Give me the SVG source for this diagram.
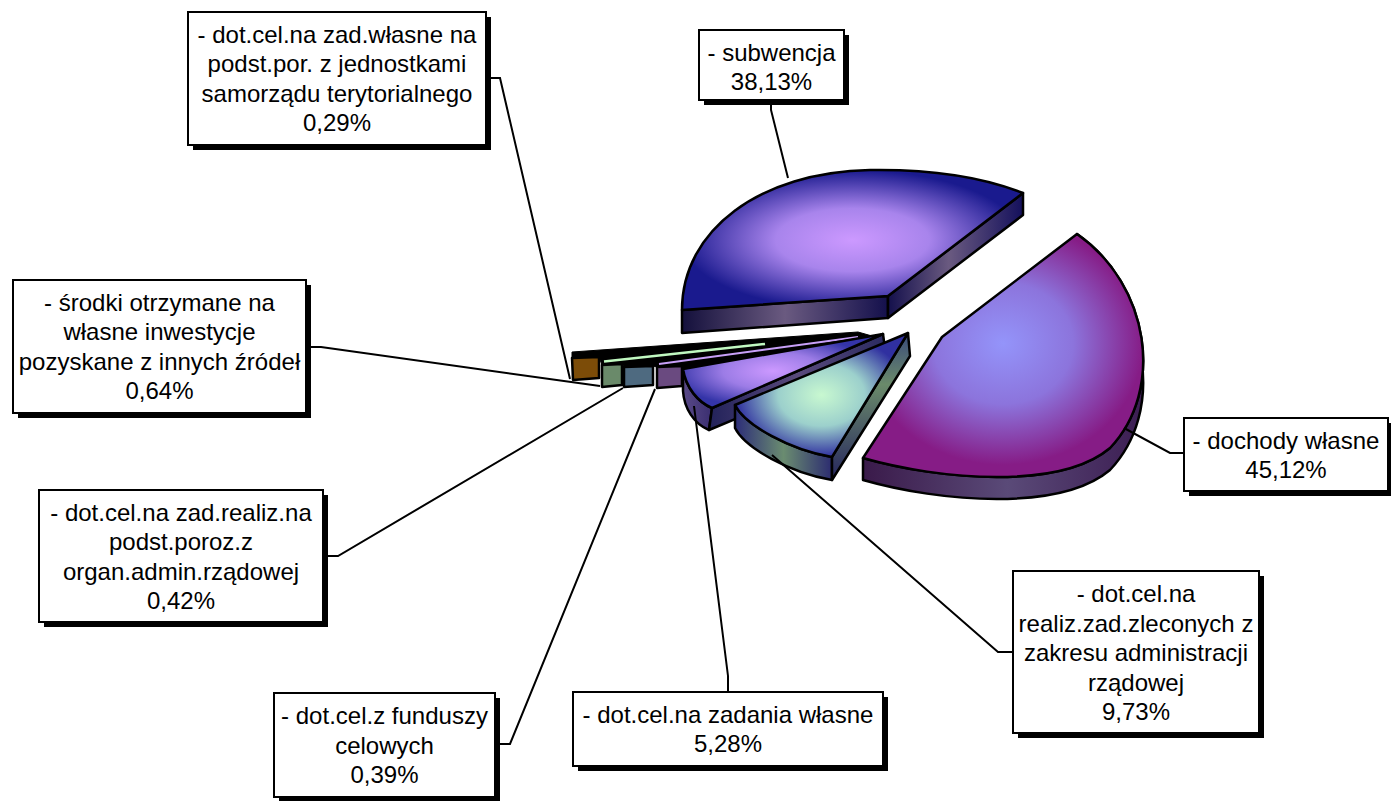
<svg xmlns="http://www.w3.org/2000/svg" width="1391" height="801" viewBox="0 0 1391 801">
<style>
.sh{fill:#000}
.bx{fill:#fff;stroke:#000;stroke-width:2}
.t{font-family:"Liberation Sans",Arial,sans-serif;font-size:24px;text-anchor:middle;fill:#000}
.s{stroke:#000;stroke-width:2.5;stroke-linejoin:round}
.ln{fill:none;stroke:#000;stroke-width:2}
</style>
<defs>
<radialGradient id="subTop" cx="0.5" cy="0.5" r="0.5"><stop offset="0" stop-color="#cc99ff"/><stop offset="0.45" stop-color="#a884ec"/><stop offset="1" stop-color="#1a1a8e"/></radialGradient>
<radialGradient id="dochTop" cx="0.5" cy="0.45" r="0.5"><stop offset="0" stop-color="#9494fa"/><stop offset="0.5" stop-color="#8c74dc"/><stop offset="1" stop-color="#861c86"/></radialGradient>
<radialGradient id="grTop" cx="0.5" cy="0.5" r="0.5"><stop offset="0" stop-color="#c8f8d0"/><stop offset="0.5" stop-color="#9cd0cc"/><stop offset="1" stop-color="#3030a0"/></radialGradient>
<radialGradient id="puTop" cx="0.45" cy="0.5" r="0.5"><stop offset="0" stop-color="#cc99ff"/><stop offset="0.5" stop-color="#9c7ce6"/><stop offset="1" stop-color="#3434a8"/></radialGradient>
<linearGradient id="subFront" gradientUnits="userSpaceOnUse" x1="682" y1="0" x2="888" y2="0"><stop offset="0" stop-color="#14103c"/><stop offset="0.5" stop-color="#6a5a80"/><stop offset="1" stop-color="#14104c"/></linearGradient>
<linearGradient id="subRight" gradientUnits="userSpaceOnUse" x1="888" y1="0" x2="1023" y2="0"><stop offset="0" stop-color="#14104c"/><stop offset="0.45" stop-color="#6a5a80"/><stop offset="1" stop-color="#14105c"/></linearGradient>
<linearGradient id="dochSide" gradientUnits="userSpaceOnUse" x1="863" y1="0" x2="1152" y2="0"><stop offset="0" stop-color="#3a1a4a"/><stop offset="0.5" stop-color="#5a4a78"/><stop offset="1" stop-color="#3a1a50"/></linearGradient>
<linearGradient id="grArc" gradientUnits="userSpaceOnUse" x1="735" y1="0" x2="832" y2="0"><stop offset="0" stop-color="#2c2c78"/><stop offset="0.5" stop-color="#6a8c70"/><stop offset="1" stop-color="#2c2c70"/></linearGradient>
<linearGradient id="grRad" gradientUnits="userSpaceOnUse" x1="0" y1="333" x2="0" y2="480"><stop offset="0" stop-color="#3a4a7a"/><stop offset="0.35" stop-color="#6a8a6a"/><stop offset="1" stop-color="#26265e"/></linearGradient>
<linearGradient id="puArc" gradientUnits="userSpaceOnUse" x1="683" y1="0" x2="712" y2="0"><stop offset="0" stop-color="#5a4a88"/><stop offset="1" stop-color="#3a2e70"/></linearGradient>
<linearGradient id="puRad" gradientUnits="userSpaceOnUse" x1="709" y1="0" x2="886" y2="0"><stop offset="0" stop-color="#22225a"/><stop offset="0.5" stop-color="#5a4a7c"/><stop offset="1" stop-color="#2a2a60"/></linearGradient>
</defs>
<rect width="1391" height="801" fill="#fff"/>

<g id="slice-subwencja">
<path class="s" fill="url(#subFront)" d="M682,310 L888,296 L888,318 L682,333 Z"/>
<path class="s" fill="url(#subRight)" d="M888,296 L1023,193 L1023,215 L888,318 Z"/>
<path class="s" fill="url(#subTop)" d="M888,296 L682,310 C682,230 760,172 870,170 C935,169 985,178 1023,193 Z"/>
</g>

<g id="slice-dochody">
<path class="s" fill="url(#dochSide)" d="M1077,234 C1150,285 1165,390 1110,448 C1060,490 940,480 863,458 L863,480 C940,502 1060,512 1110,470 C1165,412 1150,307 1077,256 Z"/>
<path class="s" fill="url(#dochTop)" d="M942,337 L1077,234 C1150,285 1165,390 1110,448 C1060,490 940,480 863,458 Z"/>
</g>

<g id="slices-small">
<path fill="#000" stroke="#000" stroke-width="1" d="M572,352 L858,332 L872,336 L683,369 L682,366 L657,367 L653,366 L624,367 L622,364 L602,365 L599,357 L572,358 Z"/>
<path fill="none" stroke="#c0f8c0" stroke-width="2.5" d="M604,361.5 L765,344"/>
<path fill="none" stroke="#c8a0f8" stroke-width="2" d="M659,364 L858,337"/>
<path class="s" fill="#7c4c08" d="M572,358 L599,357 L599,378 L573,380 Z"/>
<path class="s" fill="#6a8a6a" d="M602,365 L622,364 L622,385 L602,387 Z"/>
<path class="s" fill="#4e6a80" d="M624,367 L653,366 L653,385 L624,387 Z"/>
<path class="s" fill="#6a4a80" d="M657,367 L682,366 L682,386 L657,388 Z"/>
</g>

<g id="slice-zadania">
<path class="s" fill="url(#puArc)" d="M683,369 C686,388 698,402 712,408 L709,430 C694,424 684,408 683,391 Z"/>
<path class="s" fill="url(#puRad)" d="M712,408 L883,334 L886,356 L709,430 Z"/>
<path class="s" fill="url(#puTop)" d="M883,334 L683,369 C686,388 698,402 712,408 Z"/>
</g>

<g id="slice-zlecone">
<path class="s" fill="url(#grArc)" d="M735,405 C745,425 790,450 832,457 L832,480 C790,473 745,448 735,428 Z"/>
<path class="s" fill="url(#grRad)" d="M908,333 L910,356 L832,480 L832,457 Z"/>
<path class="s" fill="url(#grTop)" d="M908,333 L735,405 C745,425 790,450 832,457 Z"/>
</g>

<g id="connectors">
<polyline class="ln" points="486,78 500,78 570,379"/>
<polyline class="ln" points="306,347 321,347 600,386"/>
<polyline class="ln" points="323,556 338,556 623,388"/>
<polyline class="ln" points="495,744 510,744 655,389"/>
<polyline class="ln" points="728,692 728,676 694,406"/>
<polyline class="ln" points="1013,652 998,652 772,455"/>
<polyline class="ln" points="1184,453 1170,453 1124,428"/>
<polyline class="ln" points="771,100 771,110 788,178"/>
</g>

<g id="label-zad-wlasne-por">
<rect class="sh" x="193" y="17" width="298" height="133"/>
<rect class="bx" x="188" y="12" width="298" height="133"/>
<text class="t" x="337" y="42.5">- dot.cel.na zad.własne na</text>
<text class="t" x="337" y="72">podst.por. z jednostkami</text>
<text class="t" x="337" y="101.5">samorządu terytorialnego</text>
<text class="t" x="337" y="131">0,29%</text>
</g>

<g id="label-srodki">
<rect class="sh" x="18" y="285" width="293" height="133"/>
<rect class="bx" x="13" y="280" width="293" height="133"/>
<text class="t" x="159.5" y="310.5">- środki otrzymane na</text>
<text class="t" x="159.5" y="340">własne inwestycje</text>
<text class="t" x="159.5" y="369.5">pozyskane z innych źródeł</text>
<text class="t" x="159.5" y="399">0,64%</text>
</g>

<g id="label-subwencja">
<rect class="sh" x="704" y="35" width="145" height="70"/>
<rect class="bx" x="699" y="30" width="145" height="70"/>
<text class="t" x="771.5" y="60.5">- subwencja</text>
<text class="t" x="771.5" y="90">38,13%</text>
</g>

<g id="label-dochody">
<rect class="sh" x="1189" y="423" width="204" height="73"/>
<rect class="bx" x="1184" y="418" width="204" height="73"/>
<text class="t" x="1286" y="448.5">- dochody własne</text>
<text class="t" x="1286" y="478">45,12%</text>
</g>

<g id="label-zlecone">
<rect class="sh" x="1018" y="576" width="246" height="162"/>
<rect class="bx" x="1013" y="571" width="246" height="162"/>
<text class="t" x="1136" y="602">- dot.cel.na</text>
<text class="t" x="1136" y="631.5">realiz.zad.zleconych z</text>
<text class="t" x="1136" y="661">zakresu administracji</text>
<text class="t" x="1136" y="690.5">rządowej</text>
<text class="t" x="1136" y="720">9,73%</text>
</g>

<g id="label-zadania-wlasne">
<rect class="sh" x="578" y="697" width="310" height="74"/>
<rect class="bx" x="573" y="692" width="310" height="74"/>
<text class="t" x="728" y="722.5">- dot.cel.na zadania własne</text>
<text class="t" x="728" y="752">5,28%</text>
</g>

<g id="label-fundusze">
<rect class="sh" x="279" y="698" width="221" height="104"/>
<rect class="bx" x="274" y="693" width="221" height="104"/>
<text class="t" x="384.5" y="724">- dot.cel.z funduszy</text>
<text class="t" x="384.5" y="753.5">celowych</text>
<text class="t" x="384.5" y="783">0,39%</text>
</g>

<g id="label-admin-rzadowa">
<rect class="sh" x="44" y="495" width="284" height="132"/>
<rect class="bx" x="39" y="490" width="284" height="132"/>
<text class="t" x="181" y="520.5">- dot.cel.na zad.realiz.na</text>
<text class="t" x="181" y="550">podst.poroz.z</text>
<text class="t" x="181" y="579.5">organ.admin.rządowej</text>
<text class="t" x="181" y="609">0,42%</text>
</g>
</svg>
